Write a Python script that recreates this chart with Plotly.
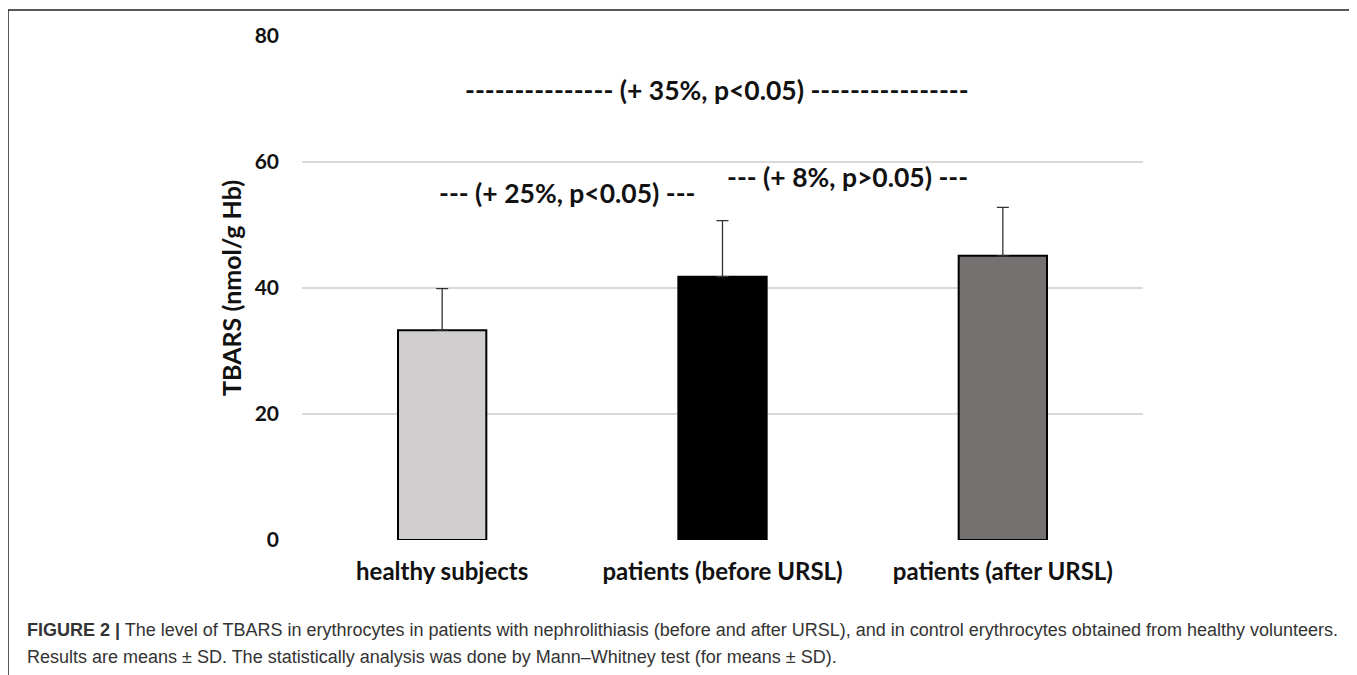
import plotly.graph_objects as go

categories = ["healthy subjects", "patients (before URSL)", "patients (after URSL)"]
means = [33.3, 41.8, 45.1]
sds = [6.6, 8.9, 7.7]
bar_colors = ["#D0CECE", "#000000", "#767171"]
y_ticks = [0, 20, 40, 60, 80]
notes = [
    ("--------------- (+ 35%, p<0.05) ----------------", 0.98, 71.4),
    ("--- (+ 25%, p<0.05) ---", 0.445, 55.1),
    ("--- (+ 8%, p>0.05) ---", 1.446, 57.6),
]
caption_1 = ("<b>FIGURE 2 |</b> The level of TBARS in erythrocytes in patients with nephrolithiasis "
             "(before and after URSL), and in control erythrocytes obtained from healthy volunteers.")
caption_2 = "Results are means ± SD. The statistically analysis was done by Mann–Whitney test (for means ± SD)."

# page has an 8px body margin; work in page pixels and convert
OFF = 8
W, H = 1357 - OFF, 675 - OFF
L, R, T, B = 302 - OFF, 1143 - OFF, 36 - OFF, 540 - OFF
pw, ph = R - L, B - T

def px(x):
    return (x - OFF - L) / pw

def py(y):
    return (B - (y - OFF)) / ph

fig = go.Figure()
fig.add_trace(go.Bar(
    x=categories, y=means, width=0.315,
    marker=dict(color=bar_colors, line=dict(color="#000000", width=2)),
    error_y=dict(type="data", array=sds, arrayminus=[0, 0, 0], symmetric=False,
                 width=6, thickness=1.3, color="#333333"),
    showlegend=False,
))

font_main = "Lato, Open Sans, sans-serif"
for text, xv, yv in notes:
    fig.add_annotation(x=xv, y=yv, xref="x", yref="y", text=text,
                       showarrow=False,
                       font=dict(family=font_main, size=26.5, color="#111111", weight="bold"))

fig.add_annotation(x=px(231), y=py(288), xref="paper", yref="paper", textangle=-90,
                   xanchor="center", yanchor="middle",
                   text="TBARS (nmol/g Hb)", showarrow=False,
                   font=dict(family=font_main, size=25, color="#111111", weight="bold"))

cap_font = dict(family="Liberation Sans Narrow, Liberation Sans, Arial", size=18, color="#333333")
fig.add_annotation(x=px(25), y=py(630), xref="paper", yref="paper", xanchor="left", yanchor="middle",
                   text=caption_1, showarrow=False, font=cap_font)
fig.add_annotation(x=px(25), y=py(657), xref="paper", yref="paper", xanchor="left", yanchor="middle",
                   text=caption_2, showarrow=False, font=cap_font)

fig.add_shape(type="rect", xref="paper", yref="paper",
              x0=px(8), x1=px(1355), y0=py(700), y1=py(10),
              line=dict(color="#222222", width=1.5), fillcolor="rgba(0,0,0,0)", layer="below")

fig.update_layout(
    width=W, height=H,
    margin=dict(l=L, r=W - R, t=T, b=H - B, pad=0),
    plot_bgcolor="white", paper_bgcolor="white",
    xaxis=dict(showgrid=False, showline=False, zeroline=False, ticks="",
               tickfont=dict(family=font_main, size=24, color="#111111", weight="bold"),
               ticklabelstandoff=15),
    yaxis=dict(range=[0, 80], tickvals=y_ticks, showgrid=True, gridcolor="#D9D9D9", gridwidth=2,
               zeroline=False, showline=False, ticks="",
               tickfont=dict(family=font_main, size=21, color="#111111", weight="bold"),
               ticklabelstandoff=22),
)

fig.write_html("out.html")
